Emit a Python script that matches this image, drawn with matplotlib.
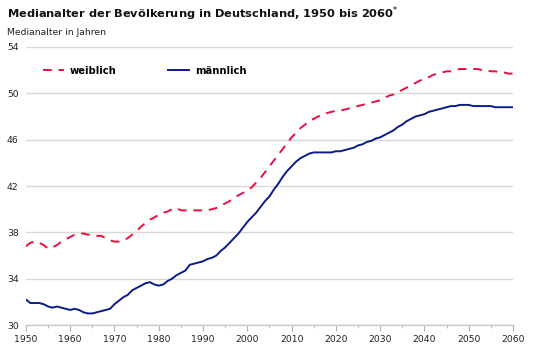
import numpy as np
import matplotlib
matplotlib.use("Agg")
import matplotlib.pyplot as plt

# median age by year
years = np.arange(1950, 2061)

maennlich = [
    32.2, 31.9, 31.9, 31.9, 31.8, 31.6, 31.5, 31.6, 31.5, 31.4,
    31.3, 31.4, 31.3, 31.1, 31.0, 31.0, 31.1, 31.2, 31.3, 31.4,
    31.8, 32.1, 32.4, 32.6, 33.0, 33.2, 33.4, 33.6, 33.7, 33.5,
    33.4, 33.5, 33.8, 34.0, 34.3, 34.5, 34.7, 35.2, 35.3, 35.4,
    35.5, 35.7, 35.8, 36.0, 36.4, 36.7, 37.1, 37.5, 37.9, 38.4,
    38.9, 39.3, 39.7, 40.2, 40.7, 41.1, 41.7, 42.2, 42.8, 43.3,
    43.7, 44.1, 44.4, 44.6, 44.8, 44.9, 44.9, 44.9, 44.9, 44.9,
    45.0, 45.0, 45.1, 45.2, 45.3, 45.5, 45.6, 45.8, 45.9, 46.1,
    46.2, 46.4, 46.6, 46.8, 47.1, 47.3, 47.6, 47.8, 48.0, 48.1,
    48.2, 48.4, 48.5, 48.6, 48.7, 48.8, 48.9, 48.9, 49.0, 49.0,
    49.0, 48.9, 48.9, 48.9, 48.9, 48.9, 48.8, 48.8, 48.8, 48.8,
    48.8,
]

weiblich = [
    36.8, 37.1, 37.2, 37.1, 36.9, 36.6, 36.7, 36.9, 37.2, 37.4,
    37.6, 37.8, 37.9, 37.9, 37.8, 37.8, 37.7, 37.7, 37.5, 37.3,
    37.2, 37.2, 37.3, 37.5, 37.8, 38.1, 38.5, 38.8, 39.1, 39.3,
    39.5, 39.7, 39.8, 40.0, 40.1, 39.9, 39.9, 39.9, 39.9, 39.9,
    39.9, 39.9, 40.0, 40.1, 40.3, 40.5, 40.7, 41.0, 41.2, 41.4,
    41.6, 41.9, 42.3, 42.7, 43.2, 43.7, 44.2, 44.7, 45.2, 45.7,
    46.2, 46.6, 47.0, 47.3, 47.6, 47.8, 48.0, 48.2, 48.3, 48.4,
    48.5, 48.5, 48.6, 48.7, 48.8, 48.9, 49.0, 49.1, 49.2, 49.3,
    49.4, 49.6, 49.8, 49.9, 50.1, 50.3, 50.5, 50.7, 50.9, 51.1,
    51.3, 51.4, 51.6, 51.7, 51.8, 51.9, 51.9, 52.0, 52.1, 52.1,
    52.1, 52.1, 52.1, 52.0, 52.0, 51.9, 51.9, 51.8, 51.8, 51.7,
    51.7,
]

y_ticks = [30, 34, 38, 42, 46, 50, 54]
x_ticks = list(range(1950, 2061, 10))

red = "#e4103f"
blue = "#0c1a8a"

fig = plt.figure(figsize=(5.4, 3.56), dpi=100)
ax = fig.add_axes([0.048, 0.087, 0.902, 0.781])

ax.plot(years, weiblich, color=red, lw=1.4, dashes=(4.5, 3.5), label="weiblich")
ax.plot(years, maennlich, color=blue, lw=1.4, label="männlich")

ax.set_xlim(1950, 2060)
ax.set_ylim(30, 54)
ax.set_yticks(y_ticks)
ax.set_xticks(x_ticks)
ax.set_xticks(range(1955, 2060, 10), minor=True)

ax.grid(axis="y", color="#d8d8d8", lw=1.0)
ax.set_axisbelow(True)
for s in ["top", "right", "left"]:
    ax.spines[s].set_visible(False)
ax.spines["bottom"].set_color("#c8c8c8")
ax.spines["bottom"].set_linewidth(1.0)

ax.tick_params(axis="y", length=0, pad=13.7, labelsize=6.7, labelcolor="#222222")
for lab in ax.get_yticklabels():
    lab.set_horizontalalignment("left")
ax.tick_params(axis="x", which="major", length=4, color="#b0b0b0", labelsize=6.7, pad=3, labelcolor="#222222")
ax.tick_params(axis="x", which="minor", length=2, color="#b0b0b0")

leg = ax.legend(loc="center left", bbox_to_anchor=(0.035, 0.914), ncol=2, frameon=False,
                borderpad=0, borderaxespad=0,
                handlelength=2.1, handletextpad=0.6, columnspacing=5.1,
                prop={"weight": "bold", "size": 7.2})

fig.text(0.013, 0.962, "Medianalter der Bevölkerung in Deutschland, 1950 bis 2060$^{*}$",
         fontsize=8.2, fontweight="bold", va="center", ha="left", color="#111111")
fig.text(0.013, 0.91, "Medianalter in Jahren", fontsize=6.7, va="center", ha="left", color="#222222")

fig.savefig("out.png", dpi=100)
